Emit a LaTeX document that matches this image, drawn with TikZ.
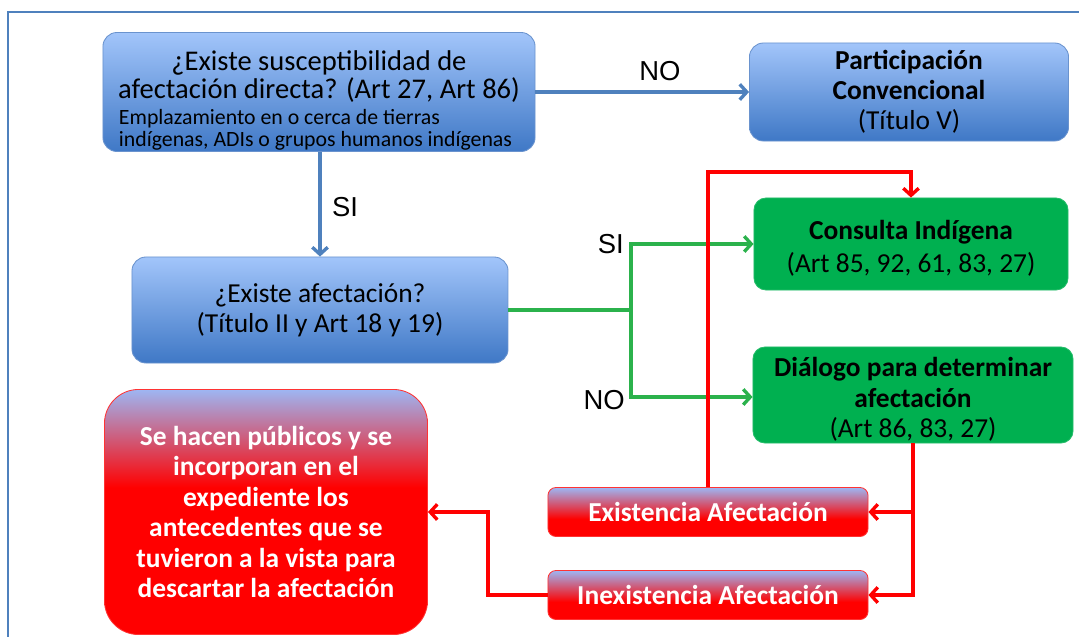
\documentclass[tikz,border=0pt]{standalone}
\usepackage{fontspec}
\setmainfont{Carlito}
\newfontfamily\arialfont{Liberation Sans}
\usetikzlibrary{arrows.meta}

\definecolor{boxtop}{HTML}{A2C5FA}
\definecolor{boxbot}{HTML}{3F78C6}
\definecolor{boxline}{HTML}{6A93CE}
\definecolor{linkblue}{HTML}{4F81BD}
\definecolor{okgreen}{HTML}{00B050}
\definecolor{linkgreen}{HTML}{2BB24C}
\definecolor{alertred}{HTML}{FF0000}
\definecolor{fadeblue}{HTML}{9DB6F3}

\pgfdeclareverticalshading{redfadebig}{100bp}{color(0bp)=(alertred); color(55bp)=(alertred); color(75bp)=(fadeblue); color(100bp)=(fadeblue)}
\pgfdeclareverticalshading{redfadesmall}{100bp}{color(0bp)=(alertred); color(43bp)=(alertred); color(75bp)=(fadeblue); color(100bp)=(fadeblue)}

\begin{document}
\begin{tikzpicture}[x=0.025cm,y=-0.025cm,
  bluebox/.style={draw=boxline,line width=0.6pt,rounded corners=0.35cm,top color=boxtop,bottom color=boxbot,align=center,inner sep=0pt,font=\fontsize{19.5}{21.3}\selectfont},
  greenbox/.style={draw=okgreen!85!white,line width=0.6pt,fill=okgreen,rounded corners=0.3cm,align=center,inner sep=0pt,font=\fontsize{19.5}{21.5}\selectfont},
  redbox/.style={draw=alertred!80!white,line width=0.6pt,shade,shading=redfadesmall,text=white,align=center,inner sep=0pt,rounded corners=0.2cm,minimum width=8cm,minimum height=1.225cm,font=\bfseries\fontsize{19.5}{21}\selectfont},
  bluearrow/.style={linkblue,line width=2.4pt,-{Straight Barb[length=5pt,width=11pt]}},
  greenarrow/.style={linkgreen,line width=2.4pt,-{Straight Barb[length=5pt,width=11pt]}},
  redarrow/.style={alertred,line width=2.4pt,-{Straight Barb[length=5pt,width=11pt]}},
  lbl/.style={font=\arialfont\fontsize{19.5}{22}\selectfont,inner sep=0pt}]
\useasboundingbox (0,0) rectangle (1079,637);
\draw[linkblue,line width=1pt] (1079,12) -- (8,12) -- (8,637);

% boxes
\node[bluebox,minimum width=10.8cm,minimum height=2.975cm,font=\fontsize{20.3}{20}\selectfont] (susc) at (319,92)
  {\rule{0pt}{26pt}¿Existe susceptibilidad de\\afectación directa? (Art 27, Art 86)\\[-2pt]
   \parbox[t]{10cm}{\raggedright\fontsize{15.5}{15.8}\selectfont Emplazamiento en o cerca de tierras\\indígenas, ADIs o grupos humanos indígenas}};
\node[bluebox,minimum width=7.975cm,minimum height=2.45cm] (partic) at (909,92)
  {\textbf{Participación}\\\textbf{Convencional}\\(Título V)};
\node[bluebox,minimum width=9.4cm,minimum height=2.65cm,font=\fontsize{19.5}{21.5}\selectfont] (afect) at (320,310)
  {¿Existe afectación?\\(Título II y Art 18 y 19)};
\node[greenbox,minimum width=7.85cm,minimum height=2.3cm,font=\fontsize{19.5}{23}\selectfont] (consulta) at (911,244)
  {\rule{0pt}{20pt}\textbf{Consulta Indígena}\\(Art 85, 92, 61, 83, 27)};
\node[greenbox,minimum width=8cm,minimum height=2.4cm] (dialogo) at (913,395)
  {\rule{0pt}{20pt}\textbf{Diálogo para determinar}\\\textbf{afectación}\\(Art 86, 83, 27)};
\node[redbox] (exist) at (708,512) {Existencia Afectación};
\node[redbox] (inexist) at (708,595) {Inexistencia Afectación};
\node[redbox,shading=redfadebig,rounded corners=0.85cm,minimum width=8.075cm,minimum height=6.125cm,font=\bfseries\fontsize{19.5}{21.7}\selectfont] (publico) at (266,512)
  {Se hacen públicos y se\\incorporan en el\\expediente los\\antecedentes que se\\tuvieron a la vista para\\descartar la afectación};

% labels
\node[lbl] (nolbl) at (660,71) {NO};
\node[lbl] (silbl) at (345,207) {SI};
\node[lbl,anchor=east] (sigreen) at (624,244) {SI};
\node[lbl,anchor=east] (nogreen) at (625,400) {NO};

% connectors
\coordinate (split) at (631,310);
\coordinate (redtop) at (708,172);
\coordinate (redleft) at (488,595);
\draw[bluearrow] (susc.east) -- (partic.west);
\draw[bluearrow] (susc.south -| afect.north) -- (afect.north);
\draw[greenarrow,-] (afect.east) -- (split);
\draw[greenarrow] (split) |- (consulta.west);
\draw[greenarrow] (split) |- (dialogo.west |- 0,397);
\draw[redarrow] (exist.north) -- (redtop) -| (consulta.north);
\draw[redarrow] (dialogo.south) |- (inexist.east);
\draw[redarrow] (dialogo.south |- exist.east) -- (exist.east);
\draw[redarrow] (inexist.west) -- (redleft) |- (publico.east);
\end{tikzpicture}
\end{document}
